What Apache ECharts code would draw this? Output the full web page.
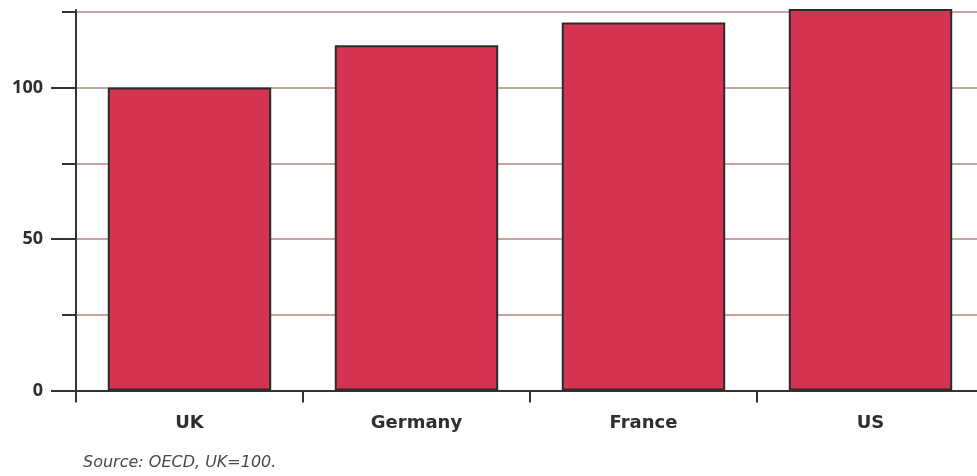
<!DOCTYPE html>
<html><head><meta charset="utf-8">
<script src="https://cdn.jsdelivr.net/npm/echarts@6/dist/echarts.min.js"></script>
<style>html,body{margin:0;padding:0;background:#fff;overflow:hidden;width:977px;height:476px}#c{width:984px;height:476px}</style>
</head><body><div id="c"></div>
<script>
const categories = ['UK', 'Germany', 'France', 'US'];
const values = [100, 114, 121.5, 130];
const majorTicks = [0, 50, 100];
const minorTicks = [25, 75, 125];
const sourceText = 'Source: OECD, UK=100.';

const chart = echarts.init(document.getElementById('c'));
chart.setOption({
  animation: false,
  backgroundColor: '#ffffff',
  grid: { left: 76, right: 0, top: 10, bottom: 85.5, containLabel: false },
  title: {
    text: sourceText, left: 78, top: 450,
    textStyle: { fontFamily: 'DejaVu Sans', fontStyle: 'italic', fontWeight: 'normal', fontSize: 16, color: '#4a4a4a' }
  },
  xAxis: {
    type: 'category', data: categories,
    axisLine: { lineStyle: { color: '#333', width: 2 } },
    axisTick: { show: true, alignWithLabel: false, length: 12, lineStyle: { color: '#333', width: 2 } },
    axisLabel: { margin: 24, fontFamily: 'DejaVu Sans', fontWeight: 'bold', fontSize: 18, color: '#2e2e2e' }
  },
  yAxis: [{
    type: 'value', min: 0, max: 125.6, interval: 25,
    axisLine: { show: true, lineStyle: { color: '#333', width: 2 } },
    axisTick: { show: true, length: 25, customValues: majorTicks, lineStyle: { color: '#333', width: 2 } },
    axisLabel: { customValues: majorTicks, margin: 33, fontFamily: 'Open Sans', fontWeight: 'bold', fontSize: 18, color: '#2e2e2e' },
    splitLine: { show: true, lineStyle: { color: '#c9a39d', width: 2 } }
  }, {
    type: 'value', min: 0, max: 125.6, interval: 25, position: 'left',
    axisLine: { show: false },
    axisTick: { show: true, length: 14, customValues: minorTicks, lineStyle: { color: '#333', width: 2 } },
    axisLabel: { show: false },
    splitLine: { show: true, lineStyle: { color: '#c9a39d', width: 2 } }
  }],
  series: [{
    type: 'bar', data: values, yAxisIndex: 0, barWidth: '72%',
    itemStyle: { color: '#d43452', borderColor: '#2b2b2b', borderWidth: 2 },
    clip: true
  }]
});
</script>
</body></html>
